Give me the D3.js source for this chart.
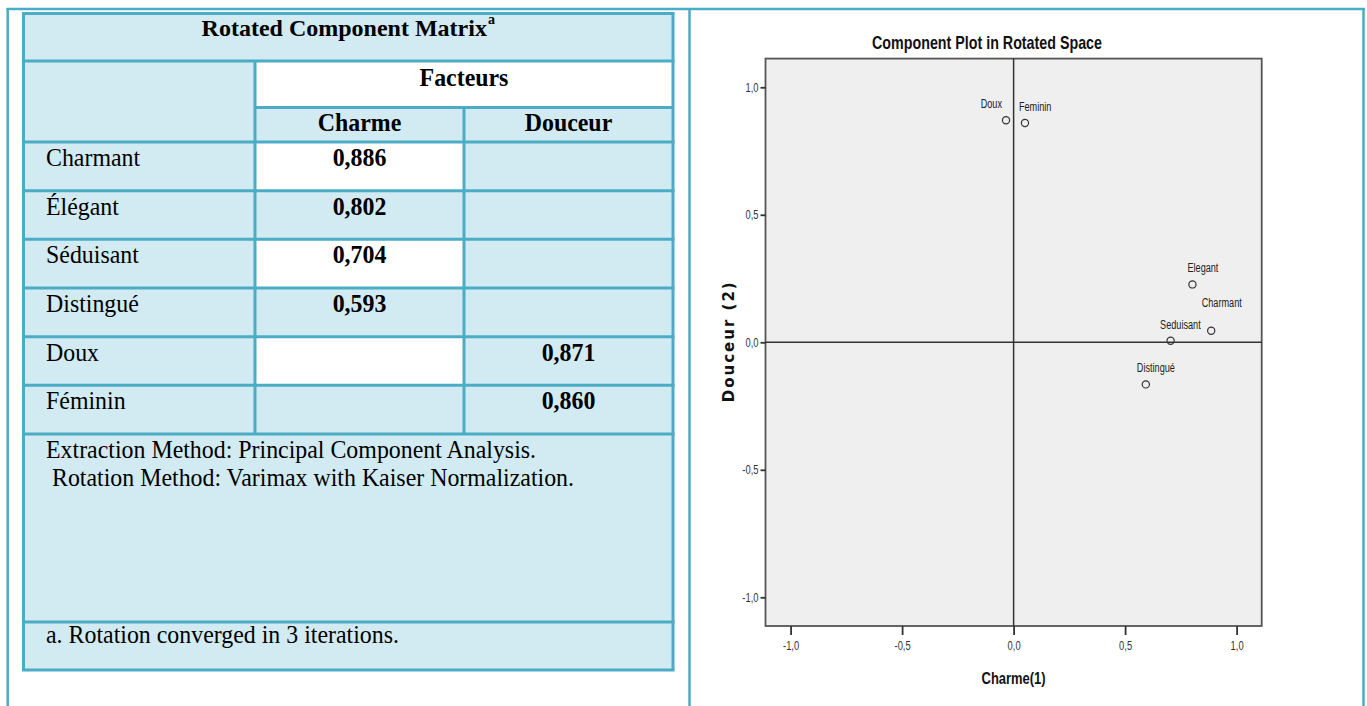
<!DOCTYPE html>
<html><head><meta charset="utf-8">
<script src="https://cdn.jsdelivr.net/npm/d3@7"></script>
<style>body{margin:0;background:#fff;} svg{display:block}</style>
</head><body><svg id="c" width="1367" height="706"></svg>
<script>
// ---------- data ----------
const tableTitle = "Rotated Component Matrix";
const titleNoteMark = "a";
const groupHeader = "Facteurs";
const factorNames = ["Charme", "Douceur"];
const variables = ["Charmant", "Élégant", "Séduisant", "Distingué", "Doux", "Féminin"];
const charmeLoadings = [0.886, 0.802, 0.704, 0.593, null, null];
const douceurLoadings = [null, null, null, null, 0.871, 0.860];
const notes = ["Extraction Method: Principal Component Analysis.", "\u00a0Rotation Method: Varimax with Kaiser Normalization."];
const footnote = "a. Rotation converged in 3 iterations.";

const chartTitle = "Component Plot in Rotated Space";
const plotLabels = ["Charmant", "Elegant", "Seduisant", "Distingué", "Doux", "Feminin"];
const plotX = [0.886, 0.802, 0.704, 0.593, -0.034, 0.051];
const plotY = [0.045, 0.227, 0.006, -0.165, 0.871, 0.860];
const tickValues = [-1.0, -0.5, 0.0, 0.5, 1.0];
const xAxisTitle = "Charme(1)";
const yAxisTitle = "Douceur (2)";

// ---------- styling / layout config ----------
const BLUE = "#4BACC6", LIGHT = "#D2EAF1";
const serif = "'Liberation Serif','Times New Roman',serif";
const sans = "'Liberation Sans',Arial,sans-serif";
const labelPlacement = {
  "Charmant": {dx: -9.5, dy: -24, anchor: "start"},
  "Elegant": {dx: -5, dy: -12, anchor: "start"},
  "Seduisant": {dx: -10.5, dy: -12, anchor: "start"},
  "Distingué": {dx: -9, dy: -12, anchor: "start"},
  "Doux": {dx: -4, dy: -12, anchor: "end"},
  "Feminin": {dx: -6, dy: -12, anchor: "start"}
};
function condense(sel, k) {
  sel.each(function () {
    const L = this.getComputedTextLength();
    d3.select(this).attr("textLength", L * k).attr("lengthAdjust", "spacingAndGlyphs");
  });
}

const loc = d3.formatLocale({decimal: ",", thousands: ".", grouping: [3], currency: ["", ""], minus: "-"});
const f3 = loc.format(".3f"), f1 = loc.format(".1f");

const svg = d3.select("#c");

// ---------- page frame ----------
const frame = svg.append("g").attr("stroke", BLUE).attr("stroke-width", 2.5).attr("fill", "none");
frame.append("line").attr("x1", 6.5).attr("x2", 1365).attr("y1", 9).attr("y2", 9);
[7.7, 689.5, 1363.5].forEach(x => frame.append("line").attr("x1", x).attr("x2", x).attr("y1", 8).attr("y2", 706));

// ---------- table ----------
const T = {left: 23.5, right: 673, top: 13.5, h1: 61, h2: 107.5, bodyTop: 142, bodyBottom: 434, notesBottom: 622, bottom: 670, col1: 255};
const tbl = svg.append("g");
tbl.append("rect").attr("x", T.left).attr("y", T.top).attr("width", T.right - T.left).attr("height", T.bottom - T.top).attr("fill", LIGHT);

const colScale = d3.scaleBand().domain(factorNames).range([T.col1, T.right]);
const rowScale = d3.scaleBand().domain(variables).range([T.bodyTop, T.bodyBottom]);

tbl.append("rect").attr("x", T.col1).attr("y", T.h1).attr("width", T.right - T.col1).attr("height", T.h2 - T.h1).attr("fill", "#fff");
tbl.selectAll("rect.w").data(variables.filter((d, i) => i % 2 === 0)).join("rect").attr("class", "w")
  .attr("x", colScale("Charme")).attr("y", d => rowScale(d)).attr("width", colScale.bandwidth()).attr("height", rowScale.bandwidth()).attr("fill", "#fff");

const g = tbl.append("g").attr("stroke", BLUE).attr("stroke-width", 3);
const hl = [T.top, T.h1, ...variables.map(v => rowScale(v)), T.bodyBottom, T.notesBottom, T.bottom];
hl.forEach(y => g.append("line").attr("x1", T.left - 1.5).attr("x2", T.right + 1.5).attr("y1", y).attr("y2", y));
g.append("line").attr("x1", T.col1).attr("x2", T.right).attr("y1", T.h2).attr("y2", T.h2);
[T.left, T.right].forEach(x => g.append("line").attr("x1", x).attr("x2", x).attr("y1", T.top).attr("y2", T.bottom));
g.append("line").attr("x1", T.col1).attr("x2", T.col1).attr("y1", T.h1).attr("y2", T.bodyBottom);
g.append("line").attr("x1", colScale("Douceur")).attr("x2", colScale("Douceur")).attr("y1", T.h2).attr("y2", T.bodyBottom);

const TK = 0.955;
const txt = tbl.append("g").attr("font-family", serif).attr("font-size", 25).attr("fill", "#000");
txt.append("text").attr("x", (T.col1 + T.right) / 2).attr("y", 86).attr("text-anchor", "middle").attr("font-weight", "bold").text(groupHeader);
txt.selectAll("text.fh").data(factorNames).join("text").attr("class", "fh")
  .attr("x", d => colScale(d) + colScale.bandwidth() / 2).attr("y", 131).attr("text-anchor", "middle").attr("font-weight", "bold").text(d => d);
txt.selectAll("text.rl").data(variables).join("text").attr("class", "rl")
  .attr("x", 46).attr("y", d => rowScale(d) + 24).text(d => d);
const cells = [];
variables.forEach((v, i) => {
  if (charmeLoadings[i] != null) cells.push({v, f: "Charme", val: charmeLoadings[i]});
  if (douceurLoadings[i] != null) cells.push({v, f: "Douceur", val: douceurLoadings[i]});
});
txt.selectAll("text.val").data(cells).join("text").attr("class", "val")
  .attr("x", d => colScale(d.f) + colScale.bandwidth() / 2).attr("y", d => rowScale(d.v) + 24)
  .attr("text-anchor", "middle").attr("font-weight", "bold").text(d => f3(d.val));
txt.selectAll("text.note").data(notes).join("text").attr("class", "note")
  .attr("x", 46).attr("y", (d, i) => 458 + i * 28).text(d => d);
txt.append("text").attr("x", 46).attr("y", 643).text(footnote);
condense(txt.selectAll("text"), TK);

// title with superscript mark in one text element
const tt = txt.append("text").attr("x", (T.left + T.right) / 2).attr("y", 36).attr("text-anchor", "middle")
  .attr("font-weight", "bold").attr("font-size", 24);
tt.append("tspan").text(tableTitle);
tt.append("tspan").attr("font-size", 14).attr("dx", 1).attr("dy", -12).text(titleNoteMark);

// ---------- scatter plot ----------
const P = {left: 765.5, right: 1261.7, top: 58.6, bottom: 626};
const x = d3.scaleLinear().domain([-1.1125, 1.1125]).range([P.left, P.right]);
const y = d3.scaleLinear().domain([-1.1125, 1.1125]).range([P.bottom, P.top]);
const ch = svg.append("g");
ch.append("rect").attr("x", P.left).attr("y", P.top).attr("width", P.right - P.left).attr("height", P.bottom - P.top)
  .attr("fill", "#EFEFEF").attr("stroke", "#555").attr("stroke-width", 1.8);
ch.append("line").attr("x1", x(0)).attr("x2", x(0)).attr("y1", P.top).attr("y2", P.bottom).attr("stroke", "#333").attr("stroke-width", 1.5);
ch.append("line").attr("x1", P.left).attr("x2", P.right).attr("y1", y(0)).attr("y2", y(0)).attr("stroke", "#333").attr("stroke-width", 1.5);

const yAxis = ch.append("g").attr("transform", `translate(${P.left},0)`)
  .call(d3.axisLeft(y).tickValues(tickValues).tickSize(5).tickPadding(2).tickFormat(f1));
const xAxis = ch.append("g").attr("transform", `translate(0,${P.bottom})`)
  .call(d3.axisBottom(x).tickValues(tickValues).tickSize(9).tickFormat(f1));
[yAxis, xAxis].forEach(a => {
  a.select(".domain").remove();
  a.selectAll(".tick line").attr("stroke", "#333").attr("stroke-width", 1.8);
  a.selectAll(".tick text").attr("font-family", sans).attr("font-size", 13).attr("fill", "#333");
  condense(a.selectAll(".tick text"), 0.72);
});
xAxis.selectAll(".tick text").attr("y", 24).attr("dy", 0);

ch.selectAll("circle.pt").data(plotLabels).join("circle").attr("class", "pt")
  .attr("cx", (d, i) => x(plotX[i])).attr("cy", (d, i) => y(plotY[i])).attr("r", 3.6)
  .attr("fill", "none").attr("stroke", "#333").attr("stroke-width", 1.2);
const pl = ch.selectAll("text.pl").data(plotLabels).join("text").attr("class", "pl")
  .attr("x", (d, i) => x(plotX[i]) + labelPlacement[d].dx).attr("y", (d, i) => y(plotY[i]) + labelPlacement[d].dy)
  .attr("text-anchor", d => labelPlacement[d].anchor).attr("font-family", sans).attr("font-size", 12.5).attr("fill", "#222").text(d => d);
condense(pl, 0.73);

ch.append("text").attr("x", 987).attr("y", 49).attr("text-anchor", "middle").attr("font-family", sans)
  .attr("font-weight", "bold").attr("font-size", 19).attr("fill", "#111").text(chartTitle)
  .attr("textLength", 230).attr("lengthAdjust", "spacingAndGlyphs");
ch.append("text").attr("x", (P.left + P.right) / 2).attr("y", 684).attr("text-anchor", "middle").attr("font-family", sans)
  .attr("font-weight", "bold").attr("font-size", 16).attr("fill", "#111").text(xAxisTitle)
  .attr("textLength", 64).attr("lengthAdjust", "spacingAndGlyphs");
ch.append("text").attr("transform", `translate(734,${y(0)}) rotate(-90)`).attr("text-anchor", "middle")
  .attr("font-family", "'DejaVu Sans',Verdana,sans-serif").attr("font-weight", "bold").attr("font-size", 15)
  .attr("fill", "#111").text(yAxisTitle).attr("textLength", 120).attr("lengthAdjust", "spacing");
</script></body></html>
